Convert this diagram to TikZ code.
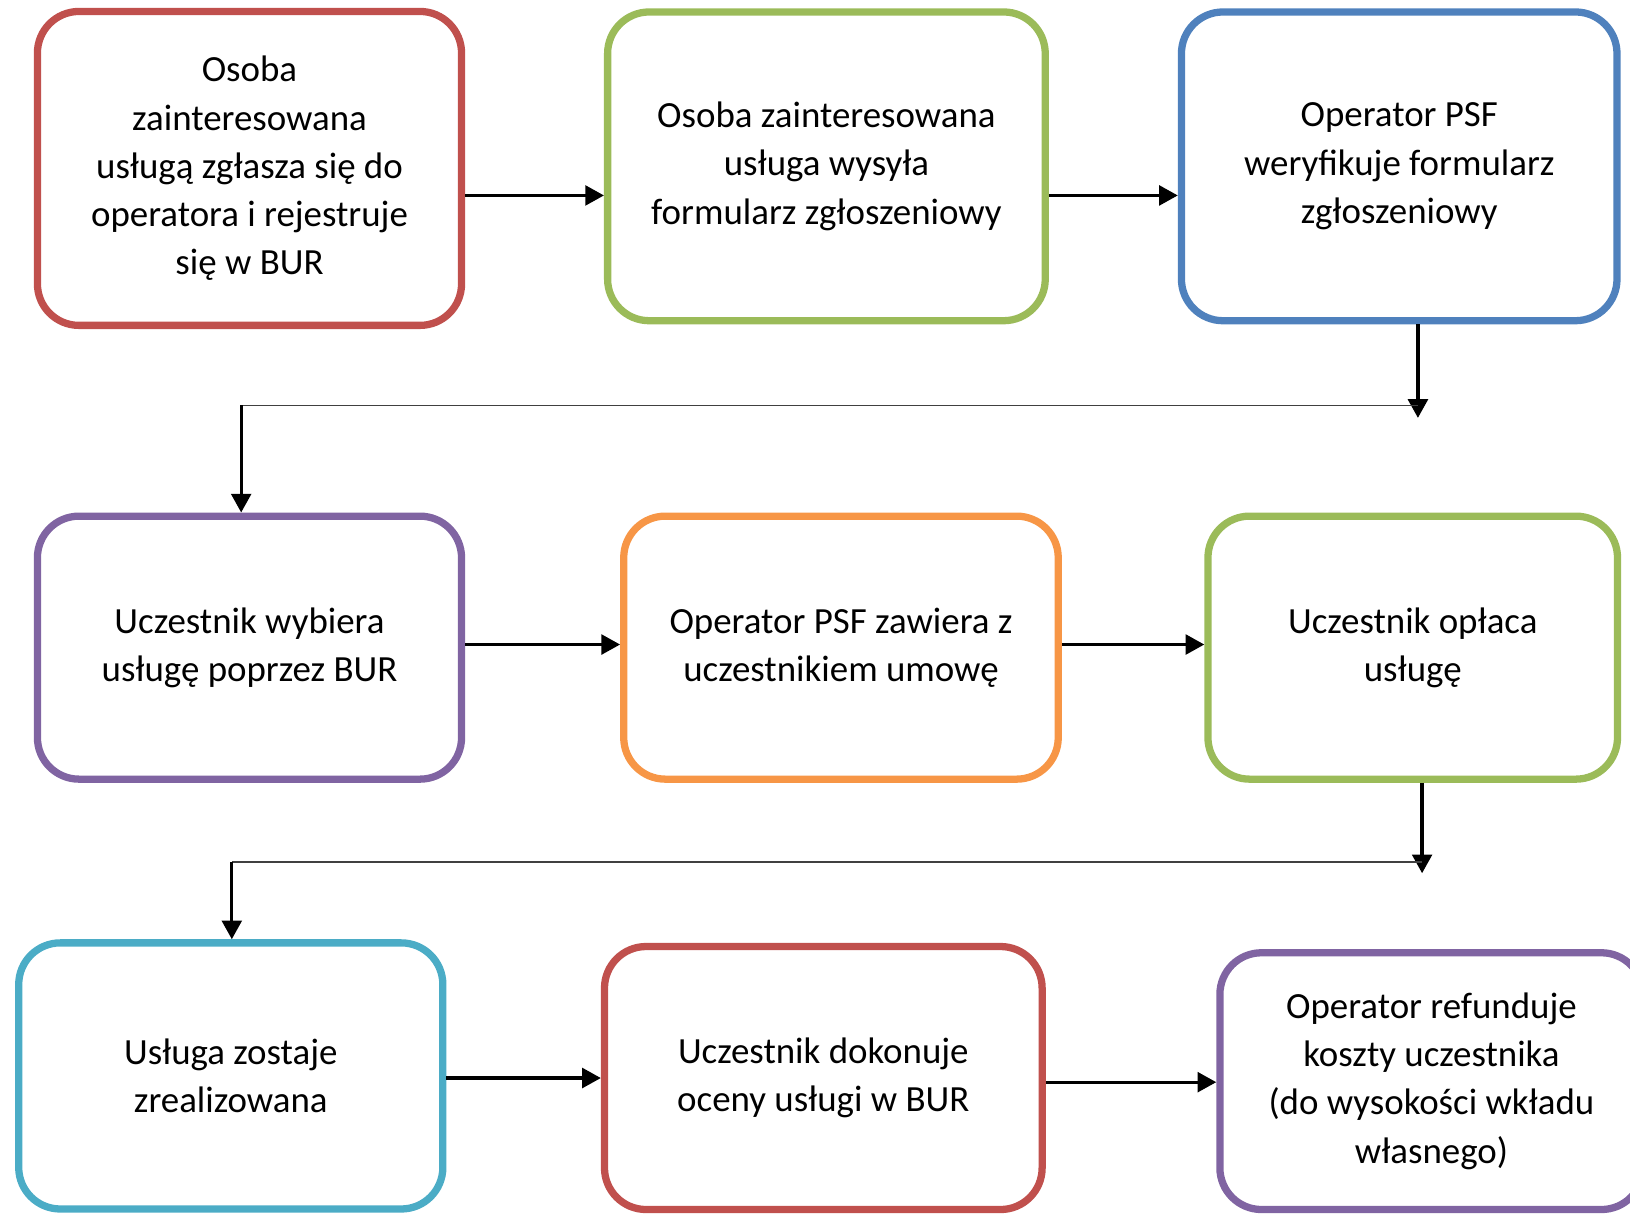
\documentclass[tikz,border=0pt]{standalone}
\usepackage{fontspec}
\setmainfont{Carlito}
\usetikzlibrary{arrows.meta}
\definecolor{boxred}{HTML}{C0504D}
\definecolor{boxgreen}{HTML}{9BBB59}
\definecolor{boxblue}{HTML}{4F81BD}
\definecolor{boxpurple}{HTML}{8064A2}
\definecolor{boxorange}{HTML}{F79646}
\definecolor{boxaqua}{HTML}{4BACC6}

\begin{document}
\begin{tikzpicture}[x=0.1mm, y=-0.1mm,
  proc/.style={draw, line width=0.7mm, rounded corners=4mm, align=center,
    font=\fontsize{10.1pt}{13.2pt}\selectfont, inner sep=0pt},
  arr/.style={line width=0.32mm, -{Triangle[length=1.8mm, width=1.9mm]}},
  link/.style={line width=0.15mm, black!75}]
  \useasboundingbox (0,0) rectangle (1568,1170);

  % first row
  \node[proc, draw=boxred, minimum width=40.8mm, minimum height=30.2mm] (b1) at (240,162)
    {Osoba\\zainteresowana\\usługą zgłasza się do\\operatora i rejestruje\\się w BUR};
  \node[proc, draw=boxgreen, minimum width=42.1mm, minimum height=29.7mm] (b2) at (795,160)
    {Osoba zainteresowana\\usługa wysyła\\formularz zgłoszeniowy};
  \node[proc, draw=boxblue, minimum width=41.9mm, minimum height=29.7mm] (b3) at (1346,160)
    {Operator PSF\\weryfikuje formularz\\zgłoszeniowy};

  % second row
  \node[proc, draw=boxpurple, minimum width=40.8mm, minimum height=25.3mm] (b4) at (240,623)
    {Uczestnik wybiera\\usługę poprzez BUR};
  \node[proc, draw=boxorange, minimum width=41.8mm, minimum height=25.3mm] (b5) at (809,623)
    {Operator PSF zawiera z\\uczestnikiem umowę};
  \node[proc, draw=boxgreen, minimum width=39.4mm, minimum height=25.3mm] (b6) at (1359,623)
    {Uczestnik opłaca\\usługę};

  % third row
  \node[proc, draw=boxaqua, minimum width=40.8mm, minimum height=25.6mm] (b7) at (222,1035)
    {Usługa zostaje\\zrealizowana};
  \node[proc, draw=boxred, minimum width=42.1mm, minimum height=25.3mm] (b8) at (792,1037)
    {Uczestnik dokonuje\\oceny usługi w BUR};
  \node[proc, draw=boxpurple, minimum width=40.7mm, minimum height=24.7mm] (b9) at (1377,1040)
    {Operator refunduje\\koszty uczestnika\\(do wysokości wkładu\\własnego)};

  % arrows along the rows
  \draw[arr] (b1.east |- 0,188) -- (b2.west |- 0,188);
  \draw[arr] (b2.east |- 0,188) -- (b3.west |- 0,188);
  \draw[arr] (b4.east |- 0,620) -- (b5.west |- 0,620);
  \draw[arr] (b5.east |- 0,620) -- (b6.west |- 0,620);
  \draw[arr] (b7.east |- 0,1037) -- (b8.west |- 0,1037);
  \draw[arr] (b8.east |- 0,1041) -- (b9.west |- 0,1041);

  % turn from row 1 to row 2
  \coordinate (d1) at (1364,402);
  \coordinate (r1) at (1364,390);
  \coordinate (l1) at (232,390);
  \draw[arr] (b3.south -| d1) -- (d1);
  \draw[link] (r1) -- (l1);
  \draw[arr] (l1) -- (b4.north -| l1);

  % turn from row 2 to row 3
  \coordinate (d2) at (1368,840);
  \coordinate (r2) at (1368,829);
  \coordinate (l2) at (223,829);
  \draw[arr] (b6.south -| d2) -- (d2);
  \draw[link] (r2) -- (l2);
  \draw[arr] (l2) -- (b7.north -| l2);
\end{tikzpicture}
\end{document}
